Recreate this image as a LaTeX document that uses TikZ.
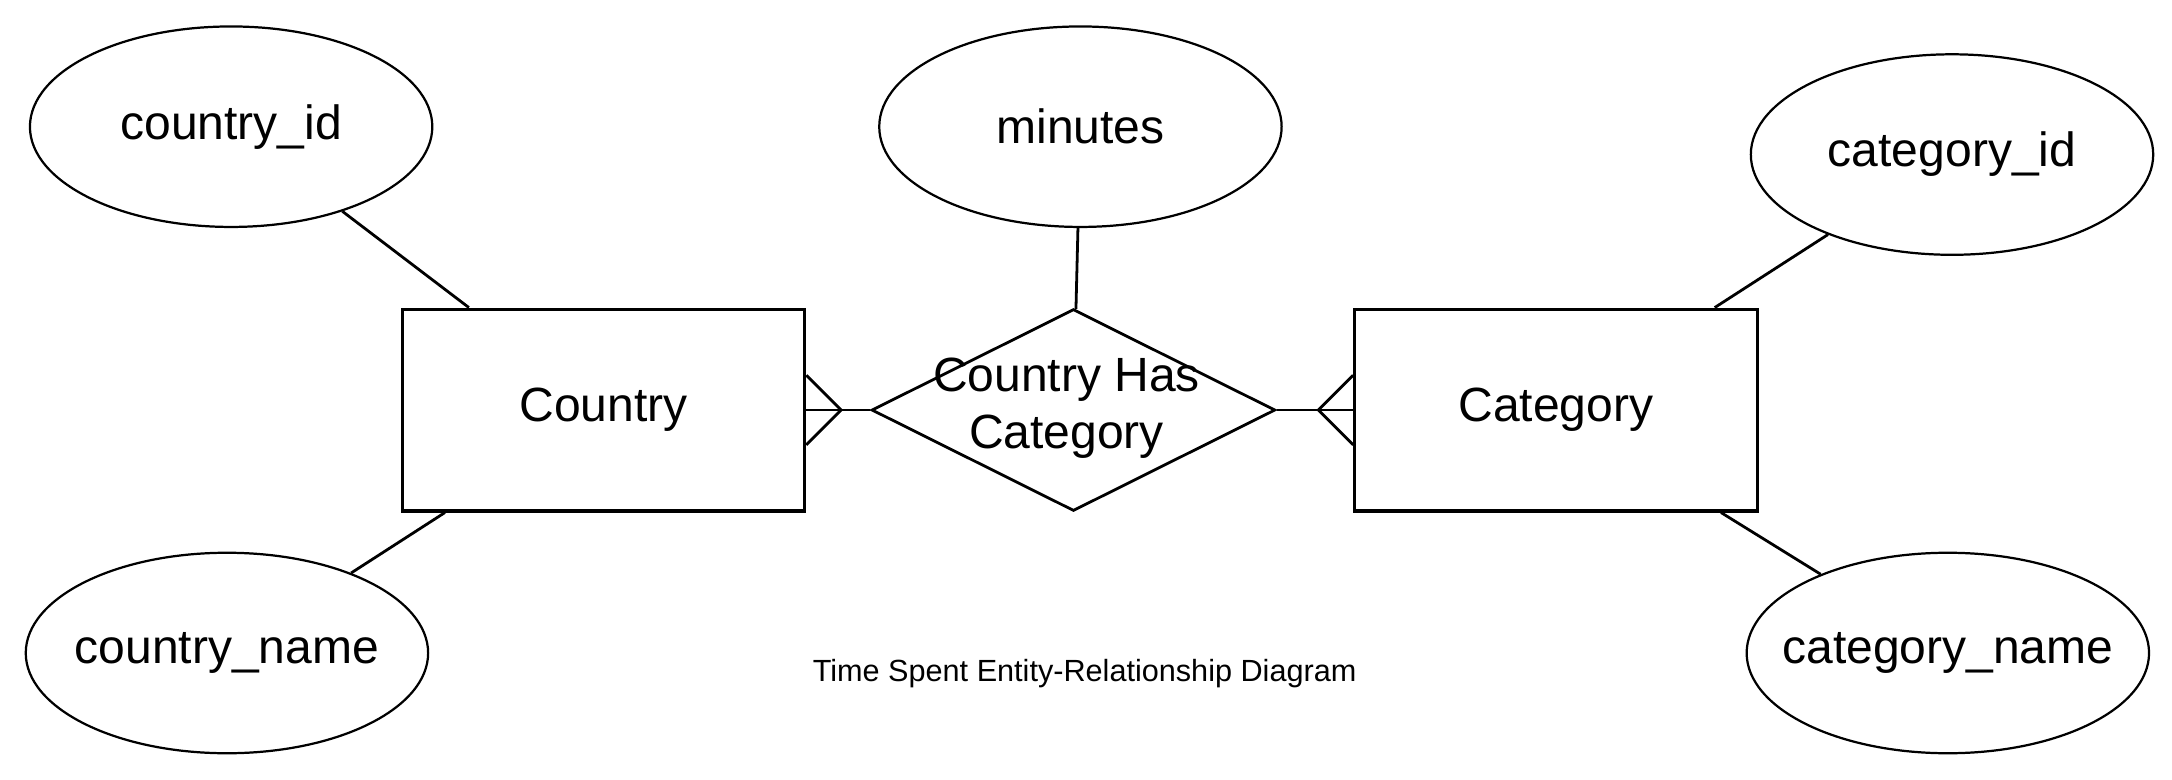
\documentclass[tikz,border=0pt]{standalone}
\usepackage{fontspec}
\setmainfont{Liberation Sans}
\usetikzlibrary{shapes.geometric}
\begin{document}
\begin{tikzpicture}[x=1pt,y=-1pt,
  bigfont/.style={font=\fontsize{34.5}{41}\selectfont},
  attr/.style={ellipse,draw,line width=1.6pt,minimum width=289pt,minimum height=144pt,inner sep=0pt,label={[bigfont,inner sep=0pt]center:#1}},
  entity/.style={rectangle,draw,line width=2.2pt,minimum width=289pt,minimum height=145pt,inner sep=0pt,bigfont},
  rel/.style={diamond,draw,line width=2pt,minimum width=290pt,minimum height=145pt,inner sep=0pt},
  conn/.style={line width=2pt},
  bigtxt/.style={bigfont,align=center,inner sep=0pt},
  captxt/.style={font=\fontsize{22}{26}\selectfont,inner sep=0pt}]
\useasboundingbox (0,0) rectangle (1560,560);
\node[attr=country\_id] (cid) at (166,91) {};
\node[attr=minutes] (min) at (776,91) {};
\node[attr=category\_id] (gid) at (1402,111) {};
\node[attr=country\_name] (cname) at (163,469) {};
\node[attr=category\_name] (gname) at (1399,469) {};
\node[entity] (country) at (433.5,294.5) {Country};
\node[entity] (category) at (1117.5,294.5) {Category};
\node[rel] (has) at (771,294.5) {};
\node[bigtxt] (hastxt) at (766,293) {Country Has\\Category};
\node[captxt] (cap) at (779,484) {Time Spent Entity-Relationship Diagram};
\draw[conn] (cid) -- (country);
\draw[conn] (cname) -- (country);
\draw[conn] (gid) -- (category);
\draw[conn] (gname) -- (category);
\draw[conn] (min) -- (has);
\draw[conn] (country.east) -- (has.west);
\draw[conn] (has.east) -- (category.west);
\draw[conn] ([yshift=25pt]country.east) -- ([xshift=25pt]country.east) -- ([yshift=-25pt]country.east);
\draw[conn] ([yshift=25pt]category.west) -- ([xshift=-25pt]category.west) -- ([yshift=-25pt]category.west);
\end{tikzpicture}
\end{document}
